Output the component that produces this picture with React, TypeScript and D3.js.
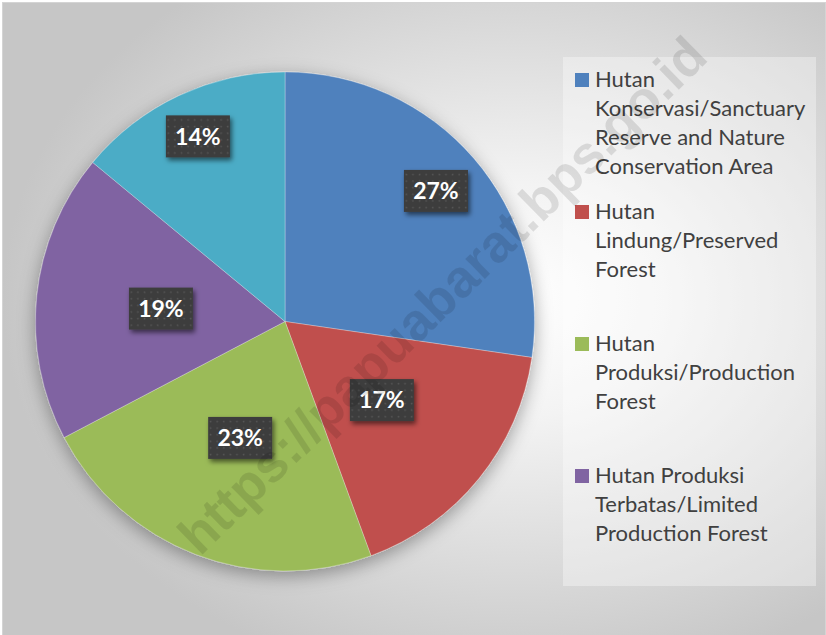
import React, { useEffect, useMemo } from "react";
import * as d3 from "d3";

// ---- data ----
const categories = [
  "Hutan Konservasi/Sanctuary Reserve and Nature Conservation Area",
  "Hutan Lindung/Preserved Forest",
  "Hutan Produksi/Production Forest",
  "Hutan Produksi Terbatas/Limited Production Forest",
  "Hutan Produksi yang dapat Dikonversi/Convertible Production Forest",
];
const shares = [27.3, 17.1, 22.9, 18.7, 14.0];
const colors = ["#4F81BD", "#C0504D", "#9BBB59", "#8064A2", "#4BACC6"];
const labelRadiusFrac = [0.8, 0.5, 0.5, 0.5, 0.82];
const watermark = "https://papuabarat.bps.go.id";

const W = 826;
const H = 635;
const cx = 285;
const cy = 321.5;
const R = 249.5;

const legendFontSize = 22;
const legendFont = `${legendFontSize}px Lato`;
const legendBox = { x: 563, y: 57, w: 253, h: 529 };
const legendTextX = 595;
const legendFirstBaseline = 87;
const legendSlot = 132;
const legendLineH = 29;
const legendMaxW = 221;

function wrap(text: string, maxW: number, font: string): string[] {
  const canvas = document.createElement("canvas");
  const ctx = canvas.getContext("2d");
  if (!ctx) return [text];
  ctx.font = font;
  const words = text.split(" ");
  const lines: string[] = [];
  let cur = "";
  for (const w of words) {
    const t = cur ? cur + " " + w : w;
    if (!cur || ctx.measureText(t).width <= maxW) cur = t;
    else {
      lines.push(cur);
      cur = w;
    }
  }
  if (cur) lines.push(cur);
  return lines;
}

export default function App() {
  useEffect(() => {
    document.body.style.margin = "0";
  }, []);

  const arcs = useMemo(
    () =>
      d3
        .pie<number>()
        .sort(null)
        .value((d) => d)(shares),
    []
  );
  const arcGen = d3.arc<d3.PieArcDatum<number>>().innerRadius(0).outerRadius(R);
  const total = d3.sum(shares);
  const fmt = d3.format(".0%");

  const legendItems = categories
    .map((c, i) => ({
      lines: wrap(c, legendMaxW, legendFont),
      color: colors[i],
      baseline: legendFirstBaseline + i * legendSlot,
    }))
    .filter((it) => it.baseline < legendBox.y + legendBox.h - 20);

  const boxW = 64;
  const boxH = 42;

  return (
    <svg
      width={W}
      height={H}
      style={{ display: "block", position: "absolute", left: 0, top: 0 }}
      fontFamily="Lato, 'Open Sans', sans-serif"
    >
      <defs>
        <radialGradient id="bg" cx="0.62" cy="0.47" r="0.62" fx="0.62" fy="0.47">
          <stop offset="0" stopColor="#ffffff" />
          <stop offset="0.3" stopColor="#f3f3f3" />
          <stop offset="1" stopColor="#c6c6c6" />
        </radialGradient>
        <filter id="pieShadow" x="-20%" y="-20%" width="140%" height="140%">
          <feDropShadow dx="0" dy="5" stdDeviation="9" floodColor="#000" floodOpacity="0.35" />
        </filter>
        <filter id="boxShadow" x="-30%" y="-30%" width="160%" height="160%">
          <feDropShadow dx="2" dy="3" stdDeviation="2.5" floodColor="#000" floodOpacity="0.55" />
        </filter>
        <pattern id="dots" width="6.6" height="6.6" patternUnits="userSpaceOnUse">
          <rect width="6.6" height="6.6" fill="#3c3c3c" />
          <rect x="2.6" y="2.6" width="1.6" height="1.6" fill="#575757" />
        </pattern>
      </defs>

      <rect x={0} y={0} width={W} height={H} fill="#ffffff" />
      <rect x={2.5} y={2.5} width={W - 3} height={H - 2} fill="url(#bg)" stroke="#d4d4d4" strokeWidth={1} />

      {/* pie */}
      <g transform={`translate(${cx},${cy})`}>
        <g filter="url(#pieShadow)">
          {arcs.map((a, i) => (
            <path key={i} d={arcGen(a) || ""} fill={colors[i]} stroke="#ffffff" strokeOpacity={0.35} strokeWidth={0.8} />
          ))}
        </g>
        {arcs.map((a, i) => {
          const rr = R * labelRadiusFrac[i];
          const [lx, ly] = d3.arc<d3.PieArcDatum<number>>().innerRadius(rr).outerRadius(rr).centroid(a);
          return (
            <g key={`l${i}`} transform={`translate(${lx},${ly})`}>
              <rect
                x={-boxW / 2}
                y={-boxH / 2}
                width={boxW}
                height={boxH}
                fill="url(#dots)"
                filter="url(#boxShadow)"
              />
              <text
                x={0}
                y={0}
                dy="0.36em"
                textAnchor="middle"
                fill="#ffffff"
                fontWeight={700}
                fontSize={23}
              >
                {fmt(a.data / total)}
              </text>
            </g>
          );
        })}
      </g>

      {/* legend */}
      <rect x={legendBox.x} y={legendBox.y} width={legendBox.w} height={legendBox.h} fill="#ffffff" fillOpacity={0.35} />
      {legendItems.map((it, i) => (
        <g key={`lg${i}`}>
          <rect x={575} y={it.baseline - 14} width={14} height={14} fill={it.color} />
          <text x={legendTextX} y={it.baseline} fontSize={legendFontSize} fill="#404040">
            {it.lines.map((ln, j) => (
              <tspan key={j} x={legendTextX} y={it.baseline + j * legendLineH}>
                {ln}
              </tspan>
            ))}
          </text>
        </g>
      ))}

      {/* watermark */}
      <text
        transform={`translate(442,295) rotate(-44.3)`}
        textAnchor="middle"
        dominantBaseline="central"
        fontFamily="'Liberation Sans', Arial, sans-serif"
        fontWeight={700}
        fontSize={53}
        fill="#000000"
        fillOpacity={0.11}
      >
        {watermark}
      </text>
    </svg>
  );
}
